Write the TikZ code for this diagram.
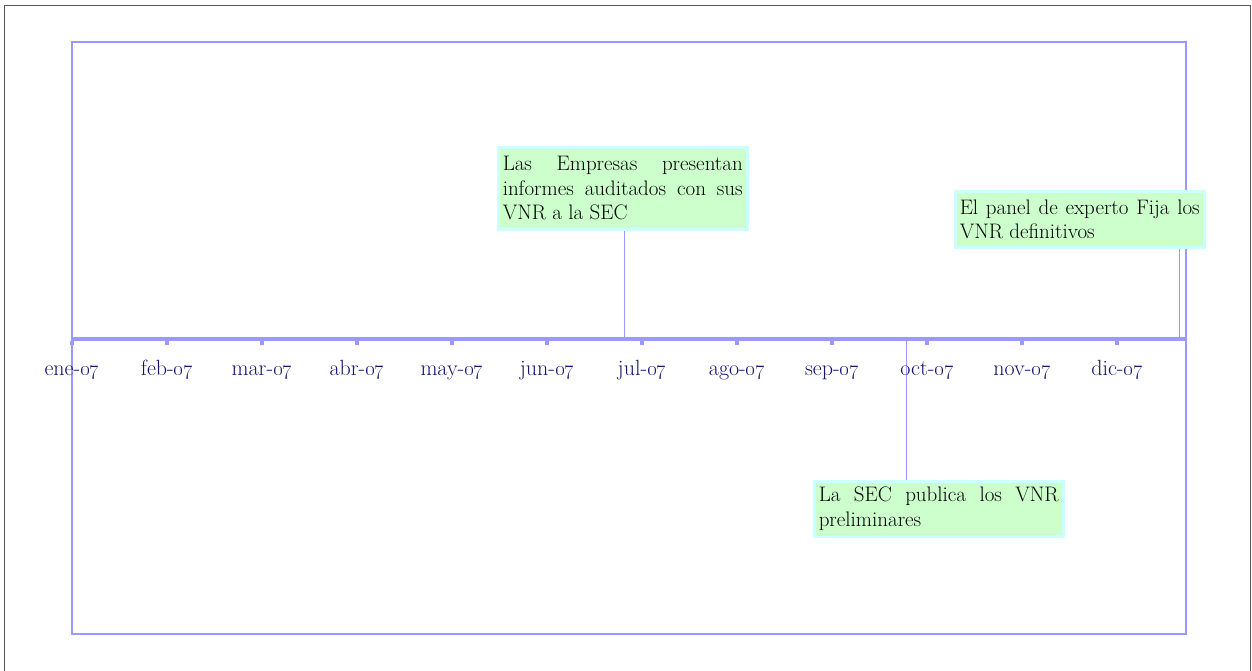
\documentclass[tikz,border=0pt]{standalone}
\usetikzlibrary{calc}
\definecolor{frameblue}{HTML}{9999FF}
\definecolor{navy}{HTML}{14146E}
\definecolor{boxfill}{HTML}{CCFFCC}
\definecolor{boxline}{HTML}{CCFFFF}
\definecolor{outergray}{HTML}{555555}
\begin{document}
\begin{tikzpicture}[x=1pt,y=-1pt,
  outerframe/.style={draw=outergray,line width=1.8pt},
  bluebox/.style={draw=frameblue,line width=2.5pt},
  axisline/.style={draw=frameblue,line width=4pt},
  tickmark/.style={draw=frameblue,line width=4pt},
  conn/.style={draw=frameblue,line width=1pt},
  month/.style={text=navy,font=\fontsize{22}{26}\selectfont,anchor=base,inner sep=0pt},
  eventbox/.style={draw=boxline,line width=2.5pt,fill=boxfill,anchor=north west,
    text width=240pt,align=justify,inner xsep=4.5pt,inner ysep=2pt,
    font=\fontsize{21}{24.5}\selectfont,text=black}
]
\useasboundingbox (0,0) rectangle (1252,670);
\draw[outerframe] (4.5,690) -- (4.5,5.5) -- (1250.5,5.5) -- (1250.5,690);
\draw[bluebox] (72,42) rectangle (1186,634);

% event boxes
\node[eventbox,minimum height=82pt] (b1) at (497,146)
  {Las Empresas presentan\linebreak informes auditados con sus\linebreak VNR a la SEC};
\node[eventbox,minimum height=56pt] (b2) at (954,190)
  {El panel de experto Fija los\linebreak VNR definitivos};
\node[eventbox,minimum height=55pt] (b3) at (813,480)
  {La SEC publica los VNR\linebreak preliminares};

% axis points
\coordinate (a0) at (72,339);
\coordinate (a1) at (1186,339);
\coordinate (p1) at (624,339);
\coordinate (p2) at (1179,339);
\coordinate (p3) at (906,339);

% connectors
\draw[conn] (p1) -- (p1 |- b1.south);
\draw[conn] (p2) -- (p2 |- b2.south);
\draw[conn] (p3) -- (p3 |- b3.north);

% axis
\draw[axisline] (a0) -- (a1);

% ticks and labels
\foreach \m [count=\i from 0] in {ene,feb,mar,abr,may,jun,jul,ago,sep,oct,nov,dic}{
  \coordinate (t\i) at ({72+95*\i},341);
  \draw[tickmark] (t\i) -- ++(0,4);
  \node[month] (m\i) at ({72+95*\i},375) {\m-\oldstylenums{07}};
}
\end{tikzpicture}
\end{document}
